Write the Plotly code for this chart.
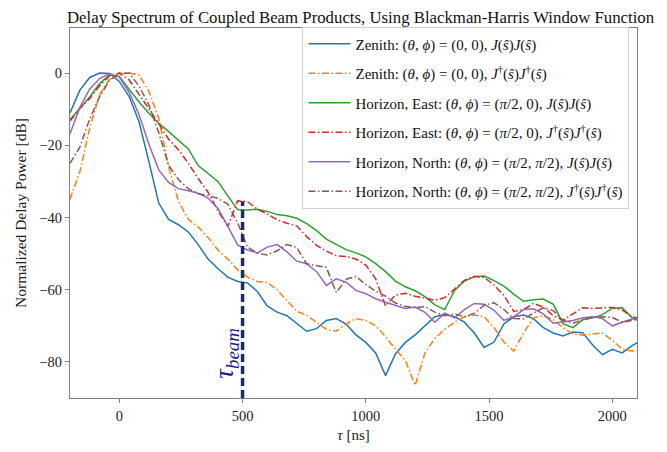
import plotly.graph_objects as go

# ---- data ----
tau_ns = [-200, -160, -120, -80, -40, 0, 40, 80, 120, 160, 200, 240, 280, 320, 360, 400, 440, 480,
          520, 560, 600, 640, 680, 720, 760, 800, 840, 880, 920, 960, 1000, 1040, 1080, 1120, 1160,
          1200, 1240, 1280, 1320, 1360, 1400, 1440, 1480, 1520, 1560, 1600, 1640, 1680, 1720, 1760,
          1800, 1840, 1880, 1920, 1960, 2000, 2040, 2080, 2120]

zenith_JJ = [-11, -4.7, -1.2, 0, -0.1, -2.3, -6.5, -13.5, -24.5, -36, -40.5, -42, -44, -47.5, -51.5,
             -54.2, -56.5, -57.7, -58.1, -60.5, -64.5, -66.2, -67.2, -69.3, -71.5, -70.8, -68.5, -68,
             -69.5, -72.5, -74.6, -77.5, -83.8, -77.8, -74.6, -72.5, -70, -67.5, -66.9, -67.5, -69,
             -72, -76, -74.5, -69.5, -67.5, -67, -68, -70.5, -72, -72.8, -71.7, -71.9, -75.3, -78,
             -76.5, -77.5, -75.5, -74]

zenith_JdJd = [-35, -27.3, -15.2, -6, -1.7, 0, 0, -0.5, -5, -12.5, -26, -35.5, -40.5, -42.6, -45.5,
               -49, -51.5, -54.5, -56.5, -57.7, -58, -60, -63, -66, -67.1, -69, -71, -71.5, -69.5,
               -68, -68.5, -70, -73, -76.5, -79.5, -86.5, -77.5, -73.5, -71, -69, -67.5, -67, -67.5,
               -70.5, -74.5, -77, -72, -67.8, -67.2, -68.3, -70.5, -72.3, -72.6, -72.3, -72, -74,
               -76.5, -77, -77]

east_JJ = [-12.9, -9.7, -6.6, -2.9, -0.5, -0.9, -4.4, -8.0, -11.1, -13.9, -16.2, -18.6, -21, -25.6,
           -27.9, -30, -34, -37.8, -37.9, -37.7, -38.3, -39.2, -39.5, -40.2, -41.7, -43.6, -46,
           -47.5, -48.9, -49.8, -50.9, -52.8, -55, -57.6, -59.2, -60.3, -61.9, -64.2, -65.5, -60.2,
           -57.6, -56.4, -56.2, -57.5, -59, -61.2, -63.2, -62.8, -62.6, -64, -69.4, -70.5, -68.3,
           -67.8, -66.9, -65.1, -65, -67.8, -69]

east_JdJd = [-13.3, -9.8, -7, -3.5, -0.7, 0, -1.9, -5.8, -9.9, -14, -18.3, -21.2, -25, -29.2, -33,
             -38.1, -42.5, -35.4, -35.6, -37.7, -39, -40.6, -41.6, -42.3, -45.3, -47.7, -49.3, -50.6,
             -50.8, -51.5, -53.2, -57, -64.5, -61.5, -61, -61.8, -62.4, -62.9, -62.2, -59.8, -57.4,
             -56.3, -56.6, -58.7, -61.6, -66, -65.5, -63.8, -64.8, -67.2, -68.4, -66.7, -65, -65.2,
             -65.1, -64.9, -65.6, -67.5, -68]

north_JJ = [-16.8, -9.5, -4.4, -1.5, -0.1, -1.1, -5.3, -11.5, -19.7, -26.8, -30.3, -32, -32.6, -33.3,
            -34.6, -37.5, -42.4, -47.6, -49, -49.8, -48.2, -47.5, -49.5, -52.1, -52.8, -55, -58.8,
            -57, -57.9, -60.2, -61.1, -62.5, -63.5, -64.3, -65.2, -64.8, -66.3, -69, -66.5, -67.8,
            -65.5, -63.8, -64, -65.7, -68.5, -67.5, -65.5, -65.3, -66.7, -69.3, -69, -68.5, -67.8,
            -67.5, -68, -70, -69, -68.1, -68]

north_JdJd = [-25, -20.5, -12.7, -6.5, -2, -0.2, 0, -3.6, -8.8, -16.5, -25.5, -29.5, -32, -33.4,
              -33.9, -34.7, -36.3, -41.5, -48.2, -49.9, -50.4, -49.2, -47.5, -48.3, -52.8, -53.2,
              -53.8, -60.8, -57.1, -56.3, -58.6, -60.4, -61.8, -63.7, -64.6, -65, -64.7, -66.2,
              -67.2, -66.7, -67.5, -66.5, -64.3, -63.6, -65.5, -68, -68.1, -66.5, -65, -65.8, -68.5,
              -69.3, -68.3, -67.7, -67.5, -67.7, -69, -68.5, -68]

beam_tau = [500, 500]
beam_db = [-90, -35.5]

series_names = [
    "Zenith: (<i>θ</i>, <i>ϕ</i>) = (0, 0), <i>J</i>(<i>ŝ</i>)<i>J</i>(<i>ŝ</i>)",
    "Zenith: (<i>θ</i>, <i>ϕ</i>) = (0, 0), <i>J</i><sup>†</sup>(<i>ŝ</i>)<i>J</i><sup>†</sup>(<i>ŝ</i>)",
    "Horizon, East: (<i>θ</i>, <i>ϕ</i>) = (<i>π</i>/2, 0), <i>J</i>(<i>ŝ</i>)<i>J</i>(<i>ŝ</i>)",
    "Horizon, East: (<i>θ</i>, <i>ϕ</i>) = (<i>π</i>/2, 0), <i>J</i><sup>†</sup>(<i>ŝ</i>)<i>J</i><sup>†</sup>(<i>ŝ</i>)",
    "Horizon, North: (<i>θ</i>, <i>ϕ</i>) = (<i>π</i>/2, <i>π</i>/2), <i>J</i>(<i>ŝ</i>)<i>J</i>(<i>ŝ</i>)",
    "Horizon, North: (<i>θ</i>, <i>ϕ</i>) = (<i>π</i>/2, <i>π</i>/2), <i>J</i><sup>†</sup>(<i>ŝ</i>)<i>J</i><sup>†</sup>(<i>ŝ</i>)",
]
series_values = [zenith_JJ, zenith_JdJd, east_JJ, east_JdJd, north_JJ, north_JdJd]
series_colors = ["#1f77b4", "#ff7f0e", "#2ca02c", "#d62728", "#9467bd", "#8c564b"]
series_dash = ["solid", "7px,2.5px,1.5px,2.5px", "solid", "7px,2.5px,1.5px,2.5px",
               "solid", "7px,2.5px,1.5px,2.5px"]

FONT = "Liberation Serif"

fig = go.Figure()
for i, (name, vals, col, dash) in enumerate(zip(series_names, series_values, series_colors, series_dash)):
    fig.add_trace(go.Scatter(x=tau_ns, y=vals, mode="lines", name=name,
                             legendgroup=f"g{i}",
                             line=dict(color=col, width=1.5, dash=dash)))

fig.add_trace(go.Scatter(x=beam_tau, y=beam_db, mode="lines", showlegend=False,
                         line=dict(color="#1b2f5f", width=3.5, dash="8px,4px")))

fig.add_annotation(x=432, y=-77.5, xref="x", yref="y", text="<i>τ</i><sub><i>beam</i></sub>",
                   textangle=-90, showarrow=False,
                   font=dict(family=FONT, size=27, color="#1c1c8a"))

# page body has an 8px margin, so the figure is sized to fit the remaining window
fig.update_layout(
    width=659, height=444,
    margin=dict(l=61, r=30, t=20, b=48),
    paper_bgcolor="white", plot_bgcolor="white",
    font=dict(family=FONT, size=14, color="#222"),
    title=dict(text="Delay Spectrum of Coupled Beam Products, Using Blackman-Harris Window Function",
               x=0.535, xanchor="center", y=0.993, yanchor="top", pad=dict(t=0),
               font=dict(family=FONT, size=16.8, color="#111")),
    showlegend=True,
    legend=dict(x=0.41, y=1.004, xanchor="left", yanchor="top",
                bgcolor="rgba(255,255,255,0.85)", bordercolor="#d0d0d0", borderwidth=1,
                font=dict(family=FONT, size=15, color="#111"),
                tracegroupgap=7, itemwidth=42),
)
fig.update_xaxes(range=[-200, 2100], tickvals=[0, 500, 1000, 1500, 2000],
                 title=dict(text="<i>τ</i> [ns]", font=dict(size=15), standoff=6),
                 showgrid=False, zeroline=False, showline=True, mirror=True,
                 linecolor="#808080", linewidth=1.2, ticks="outside", ticklen=4,
                 tickcolor="#808080", tickfont=dict(size=14.5))
fig.update_yaxes(range=[-90, 12.5], tickvals=[0, -20, -40, -60, -80],
                 title=dict(text="Normalized Delay Power [dB]", font=dict(size=15.5), standoff=8),
                 showgrid=False, zeroline=False, showline=True, mirror=True,
                 linecolor="#808080", linewidth=1.2, ticks="outside", ticklen=4,
                 tickcolor="#808080", tickfont=dict(size=14.5))

fig.write_html("out.html")
